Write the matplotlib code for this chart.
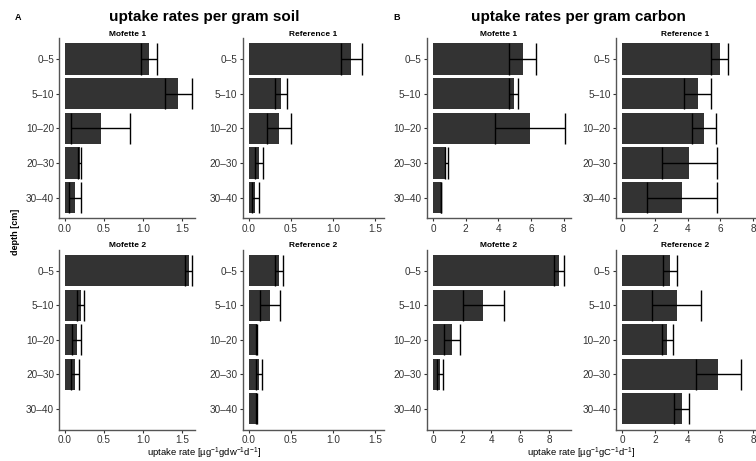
import numpy as np
import matplotlib
matplotlib.use('Agg')
import matplotlib.pyplot as plt

plt.rcParams['font.family'] = ['Liberation Sans', 'DejaVu Sans']
plt.rcParams['mathtext.fontset'] = 'custom'
plt.rcParams['mathtext.rm'] = 'Liberation Sans'
plt.rcParams['mathtext.it'] = 'Liberation Sans:italic'
plt.rcParams['mathtext.bf'] = 'Liberation Sans:bold'

depth = ['0\u20135', '5\u201310', '10\u201320', '20\u201330', '30\u201340']
sites = ['Mofette 1', 'Reference 1', 'Mofette 2', 'Reference 2']

# uptake per gram soil (mean, error half-width)
soil_mof1 = [1.07, 1.45, 0.456, 0.19, 0.125]
soil_mof1_err = [0.10, 0.175, 0.375, 0.018, 0.08]
soil_ref1 = [1.22, 0.38, 0.36, 0.115, 0.077]
soil_ref1_err = [0.12, 0.073, 0.143, 0.048, 0.044]
soil_mof2 = [1.58, 0.20, 0.148, 0.125, np.nan]
soil_mof2_err = [0.047, 0.049, 0.053, 0.049, np.nan]
soil_ref2 = [0.36, 0.25, 0.09, 0.119, 0.091]
soil_ref2_err = [0.048, 0.115, 0.005, 0.032, 0.004]

# uptake per gram carbon
carb_mof1 = [5.49, 4.93, 5.92, 0.80, 0.47]
carb_mof1_err = [0.81, 0.30, 2.14, 0.09, 0.01]
carb_ref1 = [5.96, 4.61, 4.98, 4.10, 3.65]
carb_ref1_err = [0.51, 0.81, 0.73, 1.70, 2.14]
carb_mof2 = [8.65, 3.46, 1.33, 0.48, np.nan]
carb_mof2_err = [0.36, 1.39, 0.56, 0.18, np.nan]
carb_ref2 = [2.90, 3.33, 2.76, 5.88, 3.64]
carb_ref2_err = [0.42, 1.49, 0.31, 1.39, 0.46]

W, H = 756, 461
fig = plt.figure(figsize=(W / 100, H / 100), dpi=100)


def add_ax(left, right, top, bottom):
    return fig.add_axes([left / W, 1 - bottom / H, (right - left) / W, (bottom - top) / H])


def ftext(x, y, s, **kw):
    fig.text(x / W, 1 - y / H, s, ha='center', va='center', **kw)


def panel(ax, vals, errs, xlim, ticks, ticklabels):
    vals = np.array(vals, dtype=float)
    errs = np.array(errs, dtype=float)
    y = np.arange(len(depth))[::-1] + 1
    ok = ~np.isnan(vals)
    ax.barh(y[ok], vals[ok], height=0.9, color='#333333', zorder=2)
    lo = vals[ok] - errs[ok]
    hi = vals[ok] + errs[ok]
    ax.hlines(y[ok], lo, hi, color='black', lw=1.0, zorder=3)
    ax.vlines(lo, y[ok] - 0.45, y[ok] + 0.45, color='black', lw=1.0, zorder=3)
    ax.vlines(hi, y[ok] - 0.45, y[ok] + 0.45, color='black', lw=1.0, zorder=3)
    ax.set_yticks(y)
    ax.set_yticklabels(depth)
    ax.set_ylim(0.4, 5.6)
    ax.set_xlim(*xlim)
    ax.set_xticks(ticks)
    ax.set_xticklabels(ticklabels)
    for s in ['top', 'right']:
        ax.spines[s].set_visible(False)
    for s in ['left', 'bottom']:
        ax.spines[s].set_color('#555555')
        ax.spines[s].set_linewidth(1.0)
    ax.tick_params(length=2.5, width=0.8, color='#333333', labelsize=7.2,
                   labelcolor='#333333', pad=1.2)


rows = [(38.2, 218.5), (249.8, 429.5)]
cols = [(59.3, 195), (242.7, 384), (426.7, 571), (616, 755)]

soil_vals = [soil_mof1, soil_ref1, soil_mof2, soil_ref2]
soil_errs = [soil_mof1_err, soil_ref1_err, soil_mof2_err, soil_ref2_err]
carb_vals = [carb_mof1, carb_ref1, carb_mof2, carb_ref2]
carb_errs = [carb_mof1_err, carb_ref1_err, carb_mof2_err, carb_ref2_err]

soil_xlims = [(-0.073, 1.662), (-0.075, 1.607), (-0.073, 1.662), (-0.075, 1.607)]
carb_xlims = [(-0.39, 8.45), (-0.39, 8.12), (-0.43, 9.48), (-0.39, 8.12)]

soil_ticks = [0, 0.5, 1.0, 1.5]
soil_ticklabels = ['0.0', '0.5', '1.0', '1.5']
carb_ticks = [0, 2, 4, 6, 8]
carb_ticklabels = ['0', '2', '4', '6', '8']

strip_y = [34.3, 245.0]

for k in range(4):
    r, c = divmod(k, 2)
    top, bot = rows[r]
    # soil (A)
    l, rt = cols[c]
    ax = add_ax(l, rt, top, bot)
    panel(ax, soil_vals[k], soil_errs[k], soil_xlims[k], soil_ticks, soil_ticklabels)
    ftext((l + rt) / 2, strip_y[r], sites[k], fontsize=6, fontweight='bold')
    # carbon (B)
    l, rt = cols[c + 2]
    ax = add_ax(l, rt, top, bot)
    panel(ax, carb_vals[k], carb_errs[k], carb_xlims[k], carb_ticks, carb_ticklabels)
    ftext((l + rt) / 2, strip_y[r], sites[k], fontsize=6, fontweight='bold')

ftext(18, 17, 'A', fontsize=6.5, fontweight='bold')
ftext(397, 17, 'B', fontsize=6.5, fontweight='bold')
ftext(204, 17, 'uptake rates per gram soil', fontsize=11, fontweight='bold')
ftext(578, 17, 'uptake rates per gram carbon', fontsize=11, fontweight='bold')
ftext(204.5, 453.5, 'uptake rate [µg$^{-1}$gdw$^{-1}$d$^{-1}$]', fontsize=6.8)
ftext(581.7, 453.5, 'uptake rate [µg$^{-1}$gC$^{-1}$d$^{-1}$]', fontsize=6.8)
ftext(15, 232, 'depth [cm]', fontsize=6.5, fontweight='bold', rotation=90)

fig.savefig('out.png', dpi=100)
